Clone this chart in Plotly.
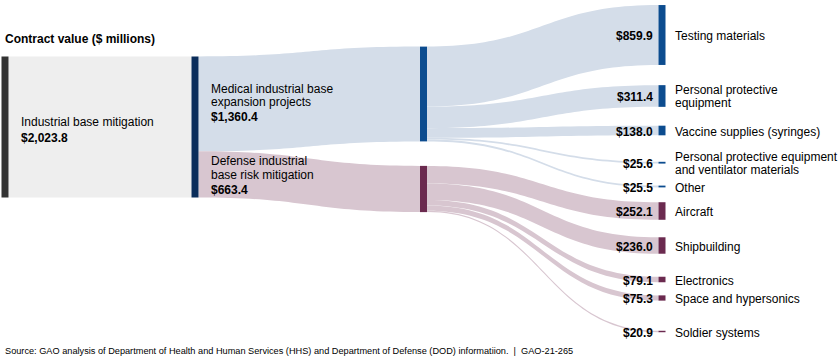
import plotly.graph_objects as go

# ---------------- data ----------------
total_label = "Industrial base mitigation"
total_value = 2023.8

program_labels = ["Medical industrial base expansion projects",
                  "Defense industrial base risk mitigation"]
program_values = [1360.4, 663.4]

medical_categories = ["Testing materials",
                      "Personal protective<br>equipment",
                      "Vaccine supplies (syringes)",
                      "Personal protective equipment<br>and ventilator materials",
                      "Other"]
medical_values = [859.9, 311.4, 138.0, 25.6, 25.5]

defense_categories = ["Aircraft",
                      "Shipbuilding",
                      "Electronics",
                      "Space and hypersonics",
                      "Soldier systems"]
defense_values = [252.1, 236.0, 79.1, 75.3, 20.9]

title_text = "Contract value ($ millions)"
source_text = ("Source: GAO analysis of Department of Health and Human Services (HHS) and "
               "Department of Defense (DOD) informatiion.  |  GAO-21-265")

# ---------------- layout / style ----------------
W, H = 840, 357
FONT = "Arial, 'Liberation Sans', sans-serif"

col_x = [5, 195, 423.5, 662]                      # node column centres (px)
total_y = 127                                     # node centres (px)
program_y = [94, 189]
medical_y = [35, 96, 130.5, 162.7, 186.5]
defense_y = [211, 245.5, 279.5, 298, 331.5]

C_TOTAL = "#333333"
C_NAVY = "#0b2d5b"
C_BLUE = "#0c4c8f"
C_PURPLE = "#6b2a4f"
L_GREY = "#eeeeee"
L_BLUE = "#d4dde9"
L_PURPLE = "#d8c6d0"

THICK = 7

def fmt(v):
    return f"${v:,.1f}"

# ---------------- build sankey ----------------
n_med = len(medical_values)
n_def = len(defense_values)

node_x = [col_x[0], col_x[1], col_x[2], col_x[2]] + [col_x[3]] * (n_med + n_def)
node_y = [total_y, total_y] + program_y + medical_y + defense_y
node_colors = [C_TOTAL, C_NAVY, C_BLUE, C_PURPLE] + [C_BLUE] * n_med + [C_PURPLE] * n_def

src, tgt, val, lcol = [], [], [], []
src.append(0); tgt.append(1); val.append(total_value); lcol.append(L_GREY)
for i, v in enumerate(program_values):
    src.append(1); tgt.append(2 + i); val.append(v)
    lcol.append(L_BLUE if i == 0 else L_PURPLE)
for i, v in enumerate(medical_values):
    src.append(2); tgt.append(4 + i); val.append(v); lcol.append(L_BLUE)
for i, v in enumerate(defense_values):
    src.append(3); tgt.append(4 + n_med + i); val.append(v); lcol.append(L_PURPLE)

fig = go.Figure(go.Sankey(
    arrangement="fixed",
    domain=dict(x=[0, 1], y=[0, 1]),
    node=dict(
        label=[""] * len(node_x),
        x=[px / W for px in node_x],
        y=[py / H for py in node_y],
        color=node_colors,
        pad=24,
        thickness=THICK,
        line=dict(width=0),
    ),
    link=dict(source=src, target=tgt, value=val, color=lcol),
    hoverinfo="none",
))

annotations = []

def add_text(text, xpx, ypx, size=12, bold=False, xanchor="left"):
    if bold:
        text = f"<b>{text}</b>"
    annotations.append(dict(
        text=text, x=xpx / W, y=1 - ypx / H, xref="paper", yref="paper",
        xanchor=xanchor, yanchor="middle", showarrow=False,
        font=dict(family=FONT, size=size, color="#000000"),
    ))

# title
add_text(title_text, 3, 38.5, bold=True)

# first column label
add_text(total_label, 19, 121.5)
add_text(fmt(total_value), 19, 137.5, bold=True)

# program labels
program_lines = [["Medical industrial base", "expansion projects"],
                 ["Defense industrial", "base risk mitigation"]]
program_text_top = [89, 161.5]
for lines, top, v in zip(program_lines, program_text_top, program_values):
    y = top
    for ln in lines:
        add_text(ln, 208.5, y)
        y += 13.5
    add_text(fmt(v), 208.5, y + 1.5, bold=True)

# right column labels
value_x = col_x[3] - THICK / 2 - 3.5
label_x = col_x[3] + THICK / 2 + 7
for cats, vals, ys in ((medical_categories, medical_values, medical_y),
                       (defense_categories, defense_values, defense_y)):
    for c, v, y in zip(cats, vals, ys):
        add_text(fmt(v), value_x, y + 1, bold=True, xanchor="right")
        parts = c.split("<br>")
        if len(parts) == 1:
            add_text(parts[0], label_x, y + 1)
        else:
            add_text(parts[0], label_x, y - 6)
            add_text(parts[1], label_x, y + 7)

# source
add_text(source_text, 3, 350.5, size=9.2)

fig.update_layout(
    width=W, height=H,
    margin=dict(l=0, r=0, t=0, b=0),
    paper_bgcolor="white", plot_bgcolor="white",
    annotations=annotations,
    font=dict(family=FONT),
)

fig.write_html("out.html",
               config={"displayModeBar": False},
               post_script="document.body.style.margin='0px';")
